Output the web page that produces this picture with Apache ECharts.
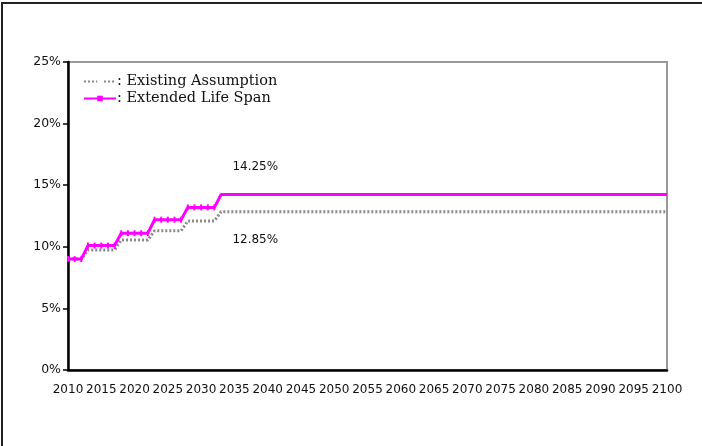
<!DOCTYPE html>
<html>
<head>
<meta charset="utf-8">
<script src="https://cdn.jsdelivr.net/npm/echarts@6/dist/echarts.min.js"></script>
<style>
  html, body { margin: 0; padding: 0; background: #fff; }
  #chart { width: 702px; height: 446px; }
</style>
</head>
<body>
<div id="chart"></div>
<script>
// Years on the horizontal axis, one category per year
const years = [];
for (let y = 2010; y <= 2100; y++) years.push(String(y));

// Step levels (percent) and the first year each level applies
const stepStartYears = [2010, 2013, 2018, 2023, 2028, 2033];
const existingLevels = [9.0, 9.75, 10.55, 11.3, 12.1, 12.85];
const extendedLevels = [9.0, 10.1, 11.1, 12.2, 13.2, 14.25];

// Where the value annotations sit
const labelYear = '2035';
// Yearly markers are drawn only through the phase-in period
const lastMarkedYear = 2032;

function expandSteps(levels) {
  return years.map(function (y) {
    const yr = Number(y);
    let v = levels[0];
    for (let i = 0; i < stepStartYears.length; i++) {
      if (yr >= stepStartYears[i]) v = levels[i];
    }
    return v;
  });
}

const existing = expandSteps(existingLevels);
const extended = expandSteps(extendedLevels);

const extendedItems = extended.map(function (v, i) {
  return Number(years[i]) <= lastMarkedYear ? v : { value: v, symbol: 'none' };
});

const chart = echarts.init(document.getElementById('chart'), null, { renderer: 'canvas' });

const tickFont = 'DejaVu Sans';

function valueLabel(dy) {
  return {
    show: true, position: 'right', offset: [-7, dy],
    formatter: function (p) { return p.value.toFixed(2) + '%'; },
    color: '#111', fontFamily: tickFont, fontSize: 12
  };
}

chart.setOption({
  animation: false,
  backgroundColor: '#fff',
  graphic: [{
    type: 'rect',
    shape: { x: 2, y: 3, width: 760, height: 500 },
    style: { fill: 'none', stroke: '#222', lineWidth: 2 },
    silent: true,
    z: -1
  }],
  grid: {
    left: 68, right: 35, top: 62, bottom: 76,
    show: true, borderColor: '#999', borderWidth: 2, backgroundColor: 'transparent'
  },
  legend: {
    orient: 'vertical',
    left: 78, top: 69,
    itemWidth: 32, itemHeight: 7, itemGap: 2,
    formatter: ': {name}',
    textStyle: { fontFamily: 'DejaVu Serif', fontSize: 14.5, color: '#111', padding: [0, 0, 0, -4] },
    data: ['Existing Assumption', 'Extended Life Span']
  },
  xAxis: {
    type: 'category',
    data: years,
    boundaryGap: false,
    axisLine: { lineStyle: { color: '#000', width: 2.5 } },
    axisTick: { show: false },
    axisLabel: {
      interval: 4, margin: 14, color: '#111',
      fontFamily: tickFont, fontSize: 12
    },
    splitLine: { show: false }
  },
  yAxis: {
    type: 'value',
    min: 0, max: 25, interval: 5,
    axisLine: { show: true, lineStyle: { color: '#000', width: 2.5 } },
    axisTick: { show: true, length: 5, lineStyle: { color: '#000', width: 1.5 } },
    axisLabel: {
      formatter: '{value}%', margin: 7, color: '#111',
      fontFamily: tickFont, fontSize: 12.5
    },
    splitLine: { show: false }
  },
  series: [
    {
      name: 'Existing Assumption',
      type: 'line',
      data: existing,
      symbol: 'rect',
      symbolSize: [4, 2],
      showSymbol: false,
      color: '#8a8a8a',
      itemStyle: { color: '#fff', borderColor: '#8a8a8a', borderWidth: 0 },
      lineStyle: { color: '#8a8a8a', width: 3, type: [2, 2] },
      z: 2,
      markPoint: {
        symbol: 'circle', symbolSize: 0,
        data: [{ coord: [labelYear, existing[years.indexOf(labelYear)]], value: existing[years.indexOf(labelYear)] }],
        label: valueLabel(28)
      }
    },
    {
      name: 'Extended Life Span',
      type: 'line',
      data: extendedItems,
      symbol: 'rect',
      symbolSize: [2, 6],
      showAllSymbol: true,
      color: '#ff00ff',
      itemStyle: { color: '#ff00ff' },
      lineStyle: { color: '#ff00ff', width: 3 },
      z: 3,
      markPoint: {
        symbol: 'circle', symbolSize: 0,
        data: [{ coord: [labelYear, extended[years.indexOf(labelYear)]], value: extended[years.indexOf(labelYear)] }],
        label: valueLabel(-28)
      }
    }
  ]
});
</script>
</body>
</html>
